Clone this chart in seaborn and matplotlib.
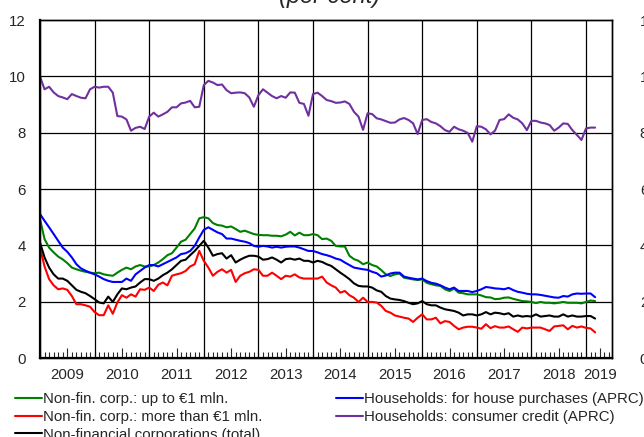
import numpy as np
import pandas as pd
import matplotlib
matplotlib.use("Agg")
import matplotlib.pyplot as plt
import seaborn as sns

# monthly observations, Jan 2009 - Mar 2019
months = pd.date_range("2009-01-01", periods=123, freq="MS")

nfc_small = [4.93, 4.22, 3.92, 3.75, 3.6, 3.5, 3.37, 3.21, 3.15, 3.1, 3.06, 3.03,
             3.01, 3.03, 2.97, 2.94, 2.92, 3.03, 3.13, 3.21, 3.15, 3.25, 3.3, 3.25,
             3.25, 3.3, 3.39, 3.51, 3.65, 3.72, 3.92, 4.13, 4.2, 4.4, 4.6, 4.96,
             5.0, 4.96, 4.79, 4.72, 4.7, 4.64, 4.67, 4.58, 4.48, 4.52, 4.46, 4.4,
             4.37, 4.36, 4.36, 4.34, 4.34, 4.32, 4.38, 4.48, 4.35, 4.45, 4.36, 4.36,
             4.4, 4.36, 4.22, 4.24, 4.16, 3.98, 3.96, 3.96, 3.63, 3.51, 3.45, 3.33,
             3.39, 3.3, 3.25, 3.12, 2.97, 2.91, 2.97, 3.0, 2.85, 2.82, 2.79, 2.77,
             2.79, 2.67, 2.62, 2.58, 2.56, 2.44, 2.38, 2.46, 2.32, 2.3, 2.26, 2.26,
             2.26, 2.22, 2.16, 2.15, 2.09, 2.1, 2.14, 2.15, 2.1, 2.06, 2.02, 2.01,
             1.99, 1.95, 1.99, 1.96, 1.96, 1.94, 1.96, 1.99, 1.96, 1.96, 1.96, 1.94,
             1.99, 2.04, 2.02]
nfc_large = [3.92, 3.25, 2.8, 2.58, 2.44, 2.47, 2.42, 2.2, 1.91, 1.91, 1.87, 1.82,
             1.63, 1.52, 1.52, 1.87, 1.57, 1.97, 2.23, 2.14, 2.26, 2.18, 2.44, 2.42,
             2.5, 2.38, 2.6, 2.68, 2.58, 2.92, 2.97, 3.01, 3.09, 3.25, 3.33, 3.8,
             3.45, 3.21, 2.92, 3.06, 3.15, 3.03, 3.13, 2.7, 2.92, 3.01, 3.06, 3.15,
             3.13, 2.92, 2.92, 3.03, 2.92, 2.8, 2.92, 2.89, 2.97, 2.86, 2.82, 2.82,
             2.82, 2.82, 2.89, 2.68, 2.58, 2.5, 2.32, 2.38, 2.23, 2.14, 1.99, 2.14,
             1.99, 1.99, 1.97, 1.85, 1.67, 1.61, 1.51, 1.47, 1.43, 1.4, 1.28, 1.43,
             1.55, 1.37, 1.37, 1.43, 1.23, 1.31, 1.28, 1.14, 1.02, 1.08, 1.11, 1.11,
             1.08, 1.04, 1.2, 1.06, 1.13, 1.08, 1.08, 1.12, 1.02, 0.93, 1.08, 1.05,
             1.08, 1.08, 1.08, 1.02, 0.96, 1.12, 1.14, 1.16, 1.02, 1.14, 1.08, 1.12,
             1.07, 1.05, 0.91]
nfc_total = [4.1, 3.57, 3.21, 2.97, 2.82, 2.82, 2.74, 2.58, 2.42, 2.35, 2.3, 2.2,
             2.09, 1.97, 1.94, 2.18, 1.99, 2.26, 2.47, 2.44, 2.5, 2.54, 2.68, 2.8,
             2.8, 2.74, 2.82, 2.94, 3.03, 3.15, 3.3, 3.45, 3.49, 3.65, 3.8, 3.98,
             4.16, 3.92, 3.63, 3.69, 3.72, 3.53, 3.65, 3.39, 3.49, 3.57, 3.63, 3.63,
             3.6, 3.49, 3.51, 3.57, 3.49, 3.39, 3.51, 3.53, 3.49, 3.53, 3.45, 3.45,
             3.39, 3.45, 3.41, 3.33, 3.27, 3.15, 3.03, 2.92, 2.8, 2.65, 2.56, 2.54,
             2.54, 2.5, 2.4, 2.35, 2.2, 2.11, 2.08, 2.06, 2.02, 1.96, 1.91, 1.94,
             2.02, 1.91, 1.87, 1.87, 1.79, 1.73, 1.7, 1.67, 1.61, 1.51, 1.55, 1.55,
             1.51, 1.55, 1.63, 1.55, 1.61, 1.59, 1.55, 1.59, 1.47, 1.51, 1.47, 1.49,
             1.47, 1.55, 1.47, 1.49, 1.51, 1.47, 1.47, 1.55, 1.47, 1.51, 1.47, 1.47,
             1.49, 1.49, 1.4]
hh_house = [5.11, 4.87, 4.64, 4.4, 4.16, 3.92, 3.77, 3.57, 3.33, 3.18, 3.1, 3.03,
            2.97, 2.89, 2.8, 2.74, 2.7, 2.7, 2.7, 2.82, 2.74, 2.97, 3.09, 3.21,
            3.3, 3.3, 3.25, 3.33, 3.41, 3.49, 3.57, 3.69, 3.72, 3.8, 3.98, 4.28,
            4.55, 4.64, 4.55, 4.46, 4.4, 4.24, 4.24, 4.2, 4.16, 4.13, 4.08, 3.98,
            3.95, 3.98, 3.96, 3.92, 3.95, 3.92, 3.95, 3.96, 3.96, 3.92, 3.86, 3.8,
            3.8, 3.75, 3.69, 3.65, 3.6, 3.53, 3.49, 3.39, 3.3, 3.21, 3.18, 3.15,
            3.13, 3.06, 3.01, 2.89, 2.93, 3.0, 3.03, 3.03, 2.89, 2.85, 2.82, 2.79,
            2.82, 2.73, 2.67, 2.64, 2.58, 2.5, 2.44, 2.5, 2.38, 2.38, 2.38, 2.34,
            2.38, 2.44, 2.52, 2.5, 2.47, 2.46, 2.44, 2.49, 2.41, 2.35, 2.32, 2.28,
            2.26, 2.26, 2.24, 2.21, 2.18, 2.15, 2.14, 2.2, 2.18, 2.26, 2.29, 2.28,
            2.29, 2.29, 2.16]
hh_consumer = [9.99, 9.54, 9.63, 9.43, 9.3, 9.25, 9.19, 9.37, 9.3, 9.24, 9.22, 9.54,
               9.63, 9.6, 9.63, 9.63, 9.42, 8.59, 8.57, 8.47, 8.07, 8.17, 8.21, 8.13,
               8.57, 8.71, 8.57, 8.65, 8.74, 8.9, 8.9, 9.04, 9.07, 9.13, 8.9, 8.92,
               9.69, 9.84, 9.78, 9.69, 9.71, 9.51, 9.4, 9.42, 9.43, 9.4, 9.25, 8.92,
               9.33, 9.54, 9.42, 9.3, 9.22, 9.3, 9.24, 9.43, 9.42, 9.06, 9.02, 8.6,
               9.37, 9.42, 9.3, 9.16, 9.12, 9.06, 9.07, 9.11, 9.02, 8.74, 8.57, 8.1,
               8.69, 8.66, 8.51, 8.47, 8.41, 8.35, 8.36, 8.47, 8.52, 8.45, 8.33, 7.95,
               8.45, 8.48, 8.38, 8.33, 8.23, 8.09, 8.03, 8.21, 8.12, 8.07, 7.99, 7.68,
               8.23, 8.21, 8.12, 7.94, 8.07, 8.45, 8.48, 8.65, 8.53, 8.47, 8.33, 8.09,
               8.42, 8.42, 8.36, 8.33, 8.27, 8.07, 8.18, 8.33, 8.31, 8.09, 7.92, 7.74,
               8.15, 8.18, 8.18]

labels = ["Non-fin. corp.: up to \u20ac1 mln.",
          "Non-fin. corp.: more than \u20ac1 mln.",
          "Non-financial corporations (total)",
          "Households: for house purchases (APRC)",
          "Households: consumer credit (APRC)"]
colors = ["#008000", "#ff0000", "#000000", "#0000ff", "#7030a0"]
years = list(range(2009, 2020))

sns.set_style("white")
plt.rcParams["font.family"] = ["Liberation Sans", "DejaVu Sans"]

t = months.year + (months.month - 1) / 12.0
frames = []
for lab, vals in zip(labels, [nfc_small, nfc_large, nfc_total, hh_house, hh_consumer]):
    frames.append(pd.DataFrame({"t": t, "value": vals, "series": lab}))
df = pd.concat(frames, ignore_index=True)

fig = plt.figure(figsize=(6.44, 4.37), dpi=100)
ax = fig.add_axes([40/644, 1 - 358/437, 572/644, 338/437])

# grid first so the lines sit on top
for yr in years[1:]:
    ax.axvline(yr, color="black", lw=0.9, zorder=1)
for yv in range(2, 12, 2):
    ax.axhline(yv, color="black", lw=0.9, zorder=1)

sns.lineplot(data=df, x="t", y="value", hue="series", hue_order=labels,
             palette=dict(zip(labels, colors)), linewidth=1.5, ax=ax, zorder=3)
handles, hlabels = ax.get_legend_handles_labels()
ax.get_legend().remove()

ax.set_xlim(2009, 2019.476)
ax.set_ylim(0, 12)
ax.set_xlabel("")
ax.set_ylabel("")

major = [y + 0.5 for y in years[:-1]] + [2019.25]
ax.set_xticks(major)
ax.set_xticklabels([str(y) for y in years])
ax.set_xticks([y + m / 12 for y in years for m in range(12) if y + m / 12 < 2019.47], minor=True)
ax.tick_params(axis="x", which="major", direction="in", length=7, width=0.8,
               labelsize=10.8, pad=7, bottom=True)
ax.tick_params(axis="x", which="minor", direction="in", length=4, width=0.8, bottom=True)
ax.set_yticks(range(0, 13, 2))
ax.tick_params(axis="y", length=0, labelsize=10.8, pad=10)

ax2 = ax.twinx()
ax2.set_ylim(0, 12)
ax2.set_yticks(range(0, 13, 2))
ax2.tick_params(axis="y", length=0, labelsize=10.8, pad=20)

for a in (ax, ax2):
    for s in a.spines.values():
        s.set_color("black")
        s.set_linewidth(1.0)
ax.spines["bottom"].set_linewidth(1.6)
ax.spines["left"].set_linewidth(1.6)

fig.text(330/644, 1 - 3/437, "(per cent)", ha="center", va="baseline",
         fontsize=17, style="italic")

leg_kw = dict(frameon=False, fontsize=10.8, borderpad=0, borderaxespad=0,
              handlelength=1.8, handletextpad=0.05, labelspacing=0.25)
fig.legend(handles[:3], hlabels[:3], loc="upper left",
           bbox_to_anchor=(15/644, 1 - 392/437), **leg_kw)
fig.legend(handles[3:], hlabels[3:], loc="upper left",
           bbox_to_anchor=(336/644, 1 - 392/437), **leg_kw)

fig.savefig("out.png", dpi=100)
